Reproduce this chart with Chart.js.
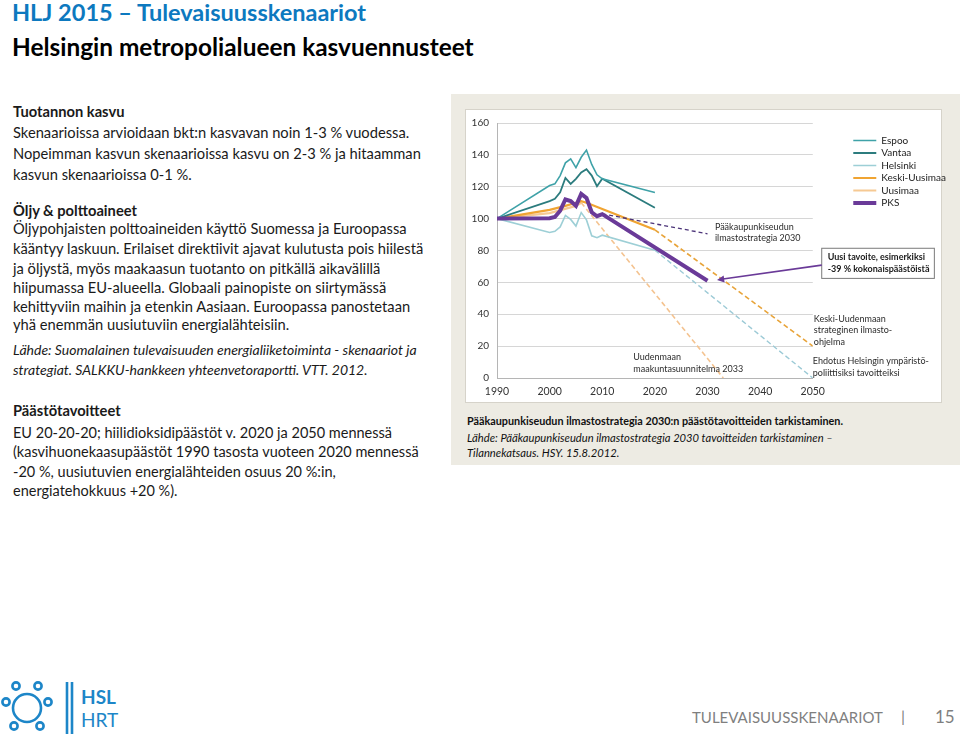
<!DOCTYPE html>
<html>
<head>
<meta charset="utf-8">
<script src="https://cdn.jsdelivr.net/npm/chart.js@4.4.1/dist/chart.umd.min.js"></script>
<style>
  body { margin: 0; width: 960px; height: 738px; background: #fff; position: relative; overflow: hidden;
         font-family: Lato, "Open Sans", sans-serif; color: #1a1a1a; }
  .t { position: absolute; white-space: nowrap; line-height: 20px; }
  .h { font-weight: bold; }
  .b { font-size: 14.7px; }
  .i { font-style: italic; font-size: 14px; }
  #panel { position: absolute; left: 451px; top: 94px; width: 509px; height: 371px; background: #edebe3; }
  #box { position: absolute; left: 465px; top: 109px; width: 477px; height: 294px; background: #fff;
         border: 1px solid #d6d3ca; box-sizing: border-box; }
  #wrap { position: absolute; left: 465px; top: 109px; width: 495px; height: 294px; }
  .cap { position: absolute; left: 467px; white-space: nowrap; font-size: 10.8px; color: #111; }
</style>
</head>
<body>
<div class="t h" style="left:12px;top:-1px;font-size:23.5px;line-height:26px;color:#0d79bf">HLJ 2015 – Tulevaisuusskenaariot</div>
<div class="t h" style="left:12px;top:33px;font-size:24.4px;line-height:28px;color:#000">Helsingin metropolialueen kasvuennusteet</div>

<div class="t h b" style="left:13px;top:101px">Tuotannon kasvu</div>
<div class="t b" style="left:13px;top:122px">Skenaarioissa arvioidaan bkt:n kasvavan noin 1-3 % vuodessa.</div>
<div class="t b" style="left:13px;top:143px">Nopeimman kasvun skenaarioissa kasvu on 2-3 % ja hitaamman</div>
<div class="t b" style="left:13px;top:164px">kasvun skenaarioissa 0-1 %.</div>

<div class="t h b" style="left:13px;top:200px">Öljy &amp; polttoaineet</div>
<div class="t b" style="left:13px;top:218px">Öljypohjaisten polttoaineiden käyttö Suomessa ja Euroopassa</div>
<div class="t b" style="left:13px;top:238px">kääntyy laskuun. Erilaiset direktiivit ajavat kulutusta pois hiilestä</div>
<div class="t b" style="left:13px;top:258px">ja öljystä, myös maakaasun tuotanto on pitkällä aikavälillä</div>
<div class="t b" style="left:13px;top:277px">hiipumassa EU-alueella. Globaali painopiste on siirtymässä</div>
<div class="t b" style="left:13px;top:296px">kehittyviin maihin ja etenkin Aasiaan. Euroopassa panostetaan</div>
<div class="t b" style="left:13px;top:314px">yhä enemmän uusiutuviin energialähteisiin.</div>

<div class="t i" style="left:13px;top:340px">Lähde: Suomalainen tulevaisuuden energialiiketoiminta - skenaariot ja</div>
<div class="t i" style="left:13px;top:360px">strategiat. SALKKU-hankkeen yhteenvetoraportti. VTT. 2012.</div>

<div class="t h b" style="left:13px;top:400px">Päästötavoitteet</div>
<div class="t b" style="left:13px;top:423px;font-size:14.5px">EU 20-20-20; hiilidioksidipäästöt v. 2020 ja 2050 mennessä</div>
<div class="t b" style="left:13px;top:442px;font-size:14.5px">(kasvihuonekaasupäästöt 1990 tasosta vuoteen 2020 mennessä</div>
<div class="t b" style="left:13px;top:462px;font-size:14.5px">-20 %, uusiutuvien energialähteiden osuus 20 %:in,</div>
<div class="t b" style="left:13px;top:481px;font-size:14.5px">energiatehokkuus +20 %).</div>

<div id="panel"></div>
<div id="box"></div>
<div id="wrap"><canvas id="chart"></canvas></div>
<div class="cap" style="top:414px;font-weight:bold">Pääkaupunkiseudun ilmastostrategia 2030:n päästötavoitteiden tarkistaminen.</div>
<div class="cap" style="top:431px;font-style:italic;font-size:11.2px">Lähde: Pääkaupunkiseudun ilmastostrategia 2030 tavoitteiden tarkistaminen –</div>
<div class="cap" style="top:446px;font-style:italic;font-size:11.2px">Tilannekatsaus. HSY. 15.8.2012.</div>

<svg style="position:absolute;left:0;top:678px" width="150" height="60" viewBox="0 0 150 60">
  <g fill="none" stroke="#1d86c8" stroke-width="2.6">
    <circle cx="27" cy="30" r="14"/>
    <circle cx="16" cy="8" r="3.6"/>
    <circle cx="38" cy="8" r="3.6"/>
    <circle cx="48" cy="24" r="3.6"/>
    <circle cx="40" cy="48" r="3.6"/>
    <circle cx="14" cy="48" r="3.6"/>
    <circle cx="6" cy="24" r="3.6"/>
    <line x1="67" y1="4" x2="67" y2="56"/>
    <line x1="72" y1="4" x2="72" y2="56"/>
  </g>
  <text x="81" y="26" font-family="Lato" font-weight="bold" font-size="19" fill="#1d86c8">HSL</text>
  <text x="81" y="49" font-family="Lato" font-size="19" fill="#1d86c8">HRT</text>
</svg>
<div class="t" style="left:692px;top:707px;font-size:15px;color:#7f7f7f">TULEVAISUUSSKENAARIOT</div>
<div class="t" style="left:901px;top:706px;font-size:16px;color:#7f7f7f">|</div>
<div class="t" style="left:935px;top:707px;font-size:17px;color:#7f7f7f">15</div>

<script>
// emissions index, 1990 = 100
const histYears = [1990, 2000, 2001, 2002, 2003, 2004, 2005, 2006, 2007, 2008, 2009, 2010, 2020];
const espoo     = [100, 120.8, 121.8, 127, 135, 137.5, 132, 138.5, 143, 134, 127.5, 125, 116.4];
const vantaa    = [100, 111, 112.5, 116.5, 125.5, 121.8, 125, 129, 131, 127, 120.3, 125, 106.8];
const helsinki  = [100, 91.3, 92, 94.8, 102, 99.5, 95.3, 103.8, 99.2, 89.2, 88, 89.6, 80.2];

const keskiYears   = [1990, 2000, 2003, 2005, 2006, 2007, 2020];
const keskiUusimaa = [100, 105.5, 108, 110, 111, 110, 93];
const uusimaaYears = [1990, 2000, 2005, 2006];
const uusimaa      = [100, 103.5, 108, 110];

const pksYears = [1990, 2000, 2001, 2002, 2003, 2004, 2005, 2006, 2007, 2008, 2009, 2010, 2030];
const pks      = [100, 100.2, 101, 105, 112, 111, 108, 115.5, 113, 104, 101.5, 102.8, 61];

// targets / projections (dashed)
const strategyYears   = [2010, 2030];
const strategy2030    = [103, 90.5];
const keskiTargetYrs  = [2020, 2050];
const keskiTarget     = [93, 20];
const helsTargetYrs   = [2020, 2050];
const helsTarget      = [80.2, 0];
const uusimaaTgtYrs   = [2006, 2033];
const uusimaaTarget   = [110, 0];

const legendNames = ['Espoo', 'Vantaa', 'Helsinki', 'Keski-Uusimaa', 'Uusimaa', 'PKS'];

function pts(xs, ys) {
  return xs.map((x, i) => ({ x: x, y: ys[i] }));
}

function line(label, xs, ys, color, width, extra) {
  return Object.assign({
    label: label,
    data: pts(xs, ys),
    borderColor: color,
    backgroundColor: color,
    borderWidth: width,
    pointRadius: 0,
    tension: 0,
    fill: false,
    order: 2
  }, extra || {});
}

const datasets = [
  line('Espoo', histYears, espoo, '#3fa2a8', 1.6),
  line('Vantaa', histYears, vantaa, '#2c7c7e', 1.8),
  line('Helsinki', histYears, helsinki, '#9dcfd6', 1.6),
  line('Keski-Uusimaa', keskiYears, keskiUusimaa, '#f0a432', 2.2),
  line('Uusimaa', uusimaaYears, uusimaa, '#f6c993', 2.2, { order: 3 }),
  line('PKS', pksYears, pks, '#6a3a98', 4, { order: 0 }),
  line('strategia', strategyYears, strategy2030, '#4c3479', 1.3, { borderDash: [4, 3], order: 1 }),
  line('keski-tavoite', keskiTargetYrs, keskiTarget, '#e8a43a', 1.6, { borderDash: [5, 3] }),
  line('hki-tavoite', helsTargetYrs, helsTarget, '#9ccad6', 1.4, { borderDash: [5, 3] }),
  line('uusimaa-tavoite', uusimaaTgtYrs, uusimaaTarget, '#f4c390', 1.6, { borderDash: [5, 3] })
];

const notes = {
  id: 'notes',
  afterDraw(chart) {
    const { ctx } = chart;
    const x = chart.scales.x, y = chart.scales.y;
    const px = v => x.getPixelForValue(v), py = v => y.getPixelForValue(v);
    ctx.save();
    ctx.font = '9px Lato, sans-serif';
    ctx.fillStyle = '#2b2b2b';
    ctx.textBaseline = 'middle';
    const write = (lines, yr, val) => lines.forEach((s, i) => ctx.fillText(s, px(yr), py(val) + i * 11.5));
    write(['Pääkaupunkiseudun', 'ilmastostrategia 2030'], 2031.4, 95);
    write(['Uudenmaan', 'maakuntasuunnitelma 2033'], 2015.9, 12.9);
    write(['Keski-Uudenmaan', 'strateginen ilmasto-', 'ohjelma'], 2050.2, 37);
    write(['Ehdotus Helsingin ympäristö-', 'poliittisiksi tavoitteiksi'], 2050, 10.4);

    // new target box + arrow
    const bx = px(2051.7), by = py(81.4), bw = px(2073.1) - bx, bh = py(62.5) - by;
    ctx.fillStyle = '#fff';
    ctx.fillRect(bx, by, bw, bh);
    ctx.strokeStyle = '#7a7a7a';
    ctx.lineWidth = 1;
    ctx.strokeRect(bx, by, bw, bh);
    ctx.fillStyle = '#1a1a1a';
    ctx.font = 'bold 9px Lato, sans-serif';
    ctx.fillText('Uusi tavoite, esimerkiksi', bx + 6, py(75.8));
    ctx.fillText('-39 % kokonaispäästöistä', bx + 6, py(68.3));

    const x0 = bx, y0 = py(70.8), x1 = px(2031.8), y1 = py(61.5);
    ctx.strokeStyle = '#6a3a98';
    ctx.fillStyle = '#6a3a98';
    ctx.lineWidth = 1.6;
    ctx.beginPath();
    ctx.moveTo(x0, y0);
    ctx.lineTo(x1 + 6, y1 - 1);
    ctx.stroke();
    const a = Math.atan2(y1 - y0, x1 - x0);
    ctx.beginPath();
    ctx.moveTo(x1, y1);
    ctx.lineTo(x1 - 8 * Math.cos(a - 0.45), y1 - 8 * Math.sin(a - 0.45));
    ctx.lineTo(x1 - 8 * Math.cos(a + 0.45), y1 - 8 * Math.sin(a + 0.45));
    ctx.closePath();
    ctx.fill();
    ctx.restore();
  }
};

new Chart(document.getElementById('chart'), {
  type: 'line',
  data: { datasets: datasets },
  options: {
    responsive: true,
    maintainAspectRatio: false,
    animation: false,
    layout: { padding: { top: 4, left: 4, bottom: 4, right: 4 } },
    plugins: {
      tooltip: { enabled: false },
      legend: {
        position: 'right',
        align: 'start',
        maxWidth: 130,
        title: { display: true, text: ' ', padding: 4, font: { size: 10 } },
        labels: {
          usePointStyle: true,
          pointStyle: 'line',
          pointStyleWidth: 23,
          padding: 2.5,
          color: '#222',
          font: { family: 'Lato', size: 10 },
          filter: item => legendNames.includes(item.text),
          sort: (a, b) => a.datasetIndex - b.datasetIndex
        }
      }
    },
    scales: {
      x: {
        type: 'linear',
        min: 1990,
        max: 2050,
        ticks: { stepSize: 10, padding: 7, color: '#333', font: { family: 'Lato', size: 10.5 }, callback: v => String(v) },
        grid: { display: false, drawTicks: false },
        border: { color: '#b5b5b5' },
        afterFit: s => { s.height = 21; }
      },
      y: {
        min: 0,
        max: 160,
        ticks: { stepSize: 20, padding: 8, color: '#333', font: { family: 'Lato', size: 10 } },
        grid: { color: '#d6d6d6', drawTicks: false },
        border: { color: '#b5b5b5' },
        afterFit: s => { s.width = 28; }
      },
      gap: {
        position: 'right',
        display: true,
        ticks: { display: false },
        grid: { display: false, drawTicks: false },
        border: { display: false },
        afterFit: s => { s.width = 38; }
      }
    }
  },
  plugins: [notes]
});
</script>
</body>
</html>
